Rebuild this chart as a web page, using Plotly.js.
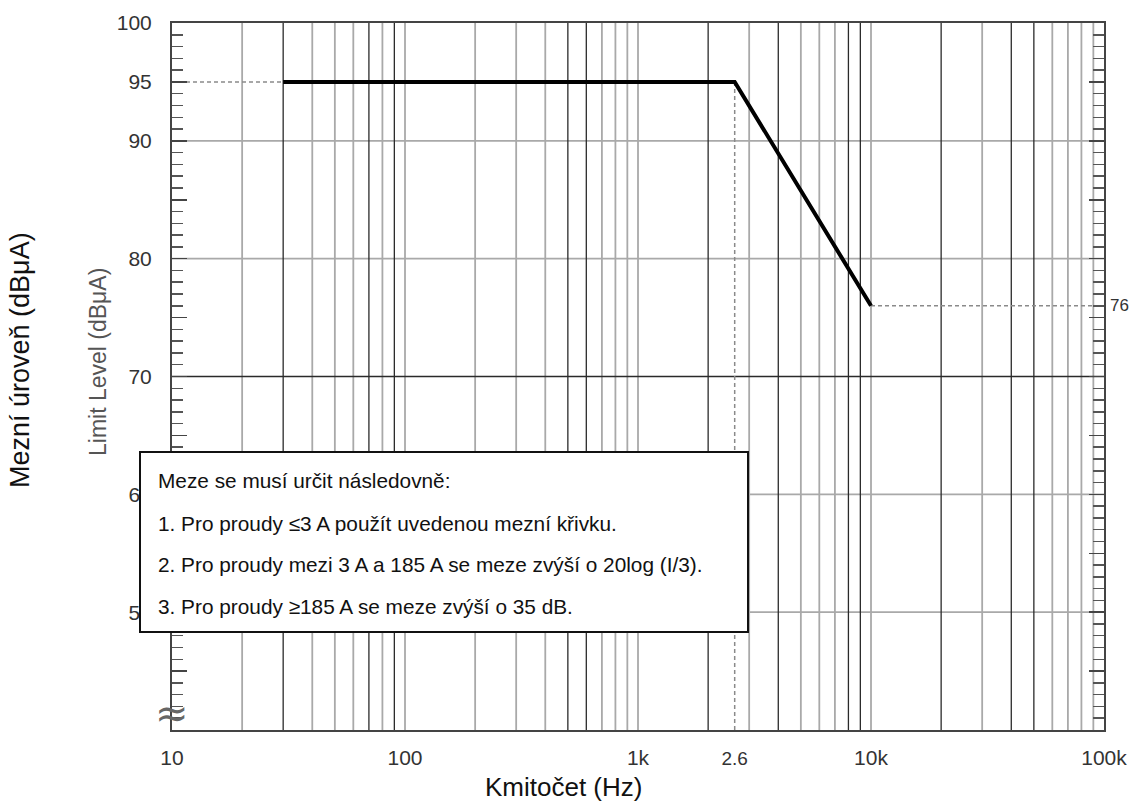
<!DOCTYPE html>
<html>
<head>
<meta charset="utf-8">
<script src="https://cdn.plot.ly/plotly-3.0.1.min.js"></script>
<style>html,body{margin:0;padding:0;background:#fff;}#chart{width:1129px;height:802px;}</style>
</head>
<body>
<div id="chart"></div>
<script>
// ---- data ----
const limitFreq = [30, 2600, 10000];          // Hz
const limitLevel = [95, 95, 76];              // dBµA
const startRefFreq = [10, 30];
const startRefLevel = [95, 95];
const kneeRefFreq = [2600, 2600];
const kneeRefLevel = [95, 40];
const endRefFreq = [10000, 100000];
const endRefLevel = [76, 76];
const gridFreqsLight = [20, 40, 50, 60, 80, 100, 200, 300, 400, 700, 800, 900, 1000, 3000, 5000, 6000, 7000, 10000, 30000, 60000, 70000, 80000, 90000];
const gridFreqsDark = [30, 70, 90, 500, 600, 2000, 4000, 8000, 9000, 20000, 40000, 50000];
const gridLevelsLight = [50, 60, 80, 90];
const gridLevelsDark = [70];
const xTickVals = [10, 100, 1000, 2600, 10000, 100000];
const xTickText = ['10', '100', '1k', '<span style="font-size:19px">2.6</span>', '10k', '100k'];
const yTickVals = [40, 45, 50, 55, 60, 65, 70, 75, 80, 85, 90, 95, 100];
const yTickText = ['', '', '50', '', '60', '', '70', '', '80', '', '90', '95', '100'];
const endLabel = '76';
const noteLines = [
  'Meze se musí určit následovně:',
  '1. Pro proudy ≤3 A použít uvedenou mezní křivku.',
  '2. Pro proudy mezi 3 A a 185 A se meze zvýší o 20log (I/3).',
  '3. Pro proudy ≥185 A se meze zvýší o 35 dB.'
];
const xTitle = 'Kmitočet (Hz)';
const yTitleInner = 'Limit Level (dBμA)';
const yTitleOuter = 'Mezní úroveň (dBμA)';

// ---- helpers ----
const yMin = 40, yMax = 100, xMin = 10, xMax = 100000;
function vLines(freqs) {
  const x = [], y = [];
  freqs.forEach(f => { x.push(f, f, null); y.push(yMin, yMax, null); });
  return {x, y};
}
function hLines(levels) {
  const x = [], y = [];
  levels.forEach(l => { x.push(xMin, xMax, null); y.push(l, l, null); });
  return {x, y};
}
const FONT = 'Liberation Sans, Arial, sans-serif';

const vl = vLines(gridFreqsLight), vd = vLines(gridFreqsDark);
const hl = hLines(gridLevelsLight), hd = hLines(gridLevelsDark);
const DASH = '4px,3px';

const traces = [
  {x: vl.x, y: vl.y, mode: 'lines', line: {color: '#a9a9a9', width: 1.8}, hoverinfo: 'skip'},
  {x: hl.x, y: hl.y, mode: 'lines', line: {color: '#a9a9a9', width: 1.8}, hoverinfo: 'skip'},
  {x: vd.x, y: vd.y, mode: 'lines', line: {color: '#2a2a2a', width: 1.3}, hoverinfo: 'skip'},
  {x: hd.x, y: hd.y, mode: 'lines', line: {color: '#2a2a2a', width: 1.3}, hoverinfo: 'skip'},
  {x: startRefFreq, y: startRefLevel, mode: 'lines', line: {color: '#8a8a8a', width: 1.5, dash: DASH}},
  {x: kneeRefFreq, y: kneeRefLevel, mode: 'lines', line: {color: '#8a8a8a', width: 1.5, dash: DASH}},
  {x: endRefFreq, y: endRefLevel, mode: 'lines', line: {color: '#8a8a8a', width: 1.5, dash: DASH}},
  {x: limitFreq, y: limitLevel, mode: 'lines', line: {color: '#000', width: 4}}
];

// plot area in pixels: left 172, right 1104, top 23, bottom 730
const PL = 172, PR = 1104, PT = 23, PB = 730;
const px = v => (v - PL) / (PR - PL);
const py = v => (PB - v) / (PB - PT);

const annotations = [
  {xref: 'paper', yref: 'paper', x: px(139), y: py(451), xanchor: 'left', yanchor: 'top',
   text: ' ', showarrow: false, width: 606, height: 178, bgcolor: '#fff', bordercolor: '#111', borderwidth: 2, borderpad: 0},
  ...noteLines.map((t, i) => ({
    xref: 'paper', yref: 'paper', x: px(156), y: py([481, 523, 564, 606][i]), xanchor: 'left', yanchor: 'middle',
    text: t, showarrow: false, font: {family: FONT, size: 20.8, color: '#111'}
  })),
  {xref: 'paper', yref: 'y', x: px(1108), y: endRefLevel[1], xanchor: 'left', yanchor: 'middle',
   text: endLabel, showarrow: false, font: {family: FONT, size: 17, color: '#333'}},
  {xref: 'paper', yref: 'paper', x: px(563), y: py(787), xanchor: 'center', yanchor: 'middle',
   text: xTitle, showarrow: false, font: {family: FONT, size: 26, color: '#111'}},
  {xref: 'paper', yref: 'paper', x: px(98), y: py(362), xanchor: 'center', yanchor: 'middle', textangle: -90,
   text: yTitleInner, showarrow: false, font: {family: FONT, size: 23, color: '#555'}},
  {xref: 'paper', yref: 'paper', x: px(20), y: py(360), xanchor: 'center', yanchor: 'middle', textangle: -90,
   text: yTitleOuter, showarrow: false, font: {family: FONT, size: 27, color: '#111'}},
  {xref: 'paper', yref: 'paper', x: px(172), y: py(713), xanchor: 'center', yanchor: 'middle',
   text: '≈', showarrow: false, font: {family: 'DejaVu Sans, sans-serif', size: 40, color: '#666'}}
];

const layout = {
  width: 1129, height: 802,
  margin: {l: PL, r: 1129 - PR, t: PT, b: 802 - PB, pad: 0},
  paper_bgcolor: '#fff', plot_bgcolor: '#fff',
  showlegend: false, hovermode: false,
  xaxis: {
    type: 'log', range: [Math.log10(xMin), Math.log10(xMax)],
    showgrid: false, zeroline: false, showline: true, mirror: true,
    linecolor: '#444', linewidth: 2, ticks: '',
    tickmode: 'array', tickvals: xTickVals, ticktext: xTickText,
    tickfont: {family: FONT, size: 21, color: '#333'}, ticklabelstandoff: 8
  },
  yaxis: {
    range: [yMin, yMax], showgrid: false, zeroline: false, showline: true, mirror: 'allticks',
    linecolor: '#444', linewidth: 2,
    tickmode: 'array', tickvals: yTickVals, ticktext: yTickText,
    ticks: 'inside', ticklen: 15, tickwidth: 1.5, tickcolor: '#444',
    tickfont: {family: FONT, size: 21, color: '#333'}, ticklabelstandoff: 14,
    minor: {dtick: 1, ticks: 'inside', ticklen: 11, tickwidth: 1.5, tickcolor: '#555', showgrid: false}
  },
  annotations: annotations
};

Plotly.newPlot('chart', traces, layout, {staticPlot: true, displayModeBar: false});
</script>
</body>
</html>
